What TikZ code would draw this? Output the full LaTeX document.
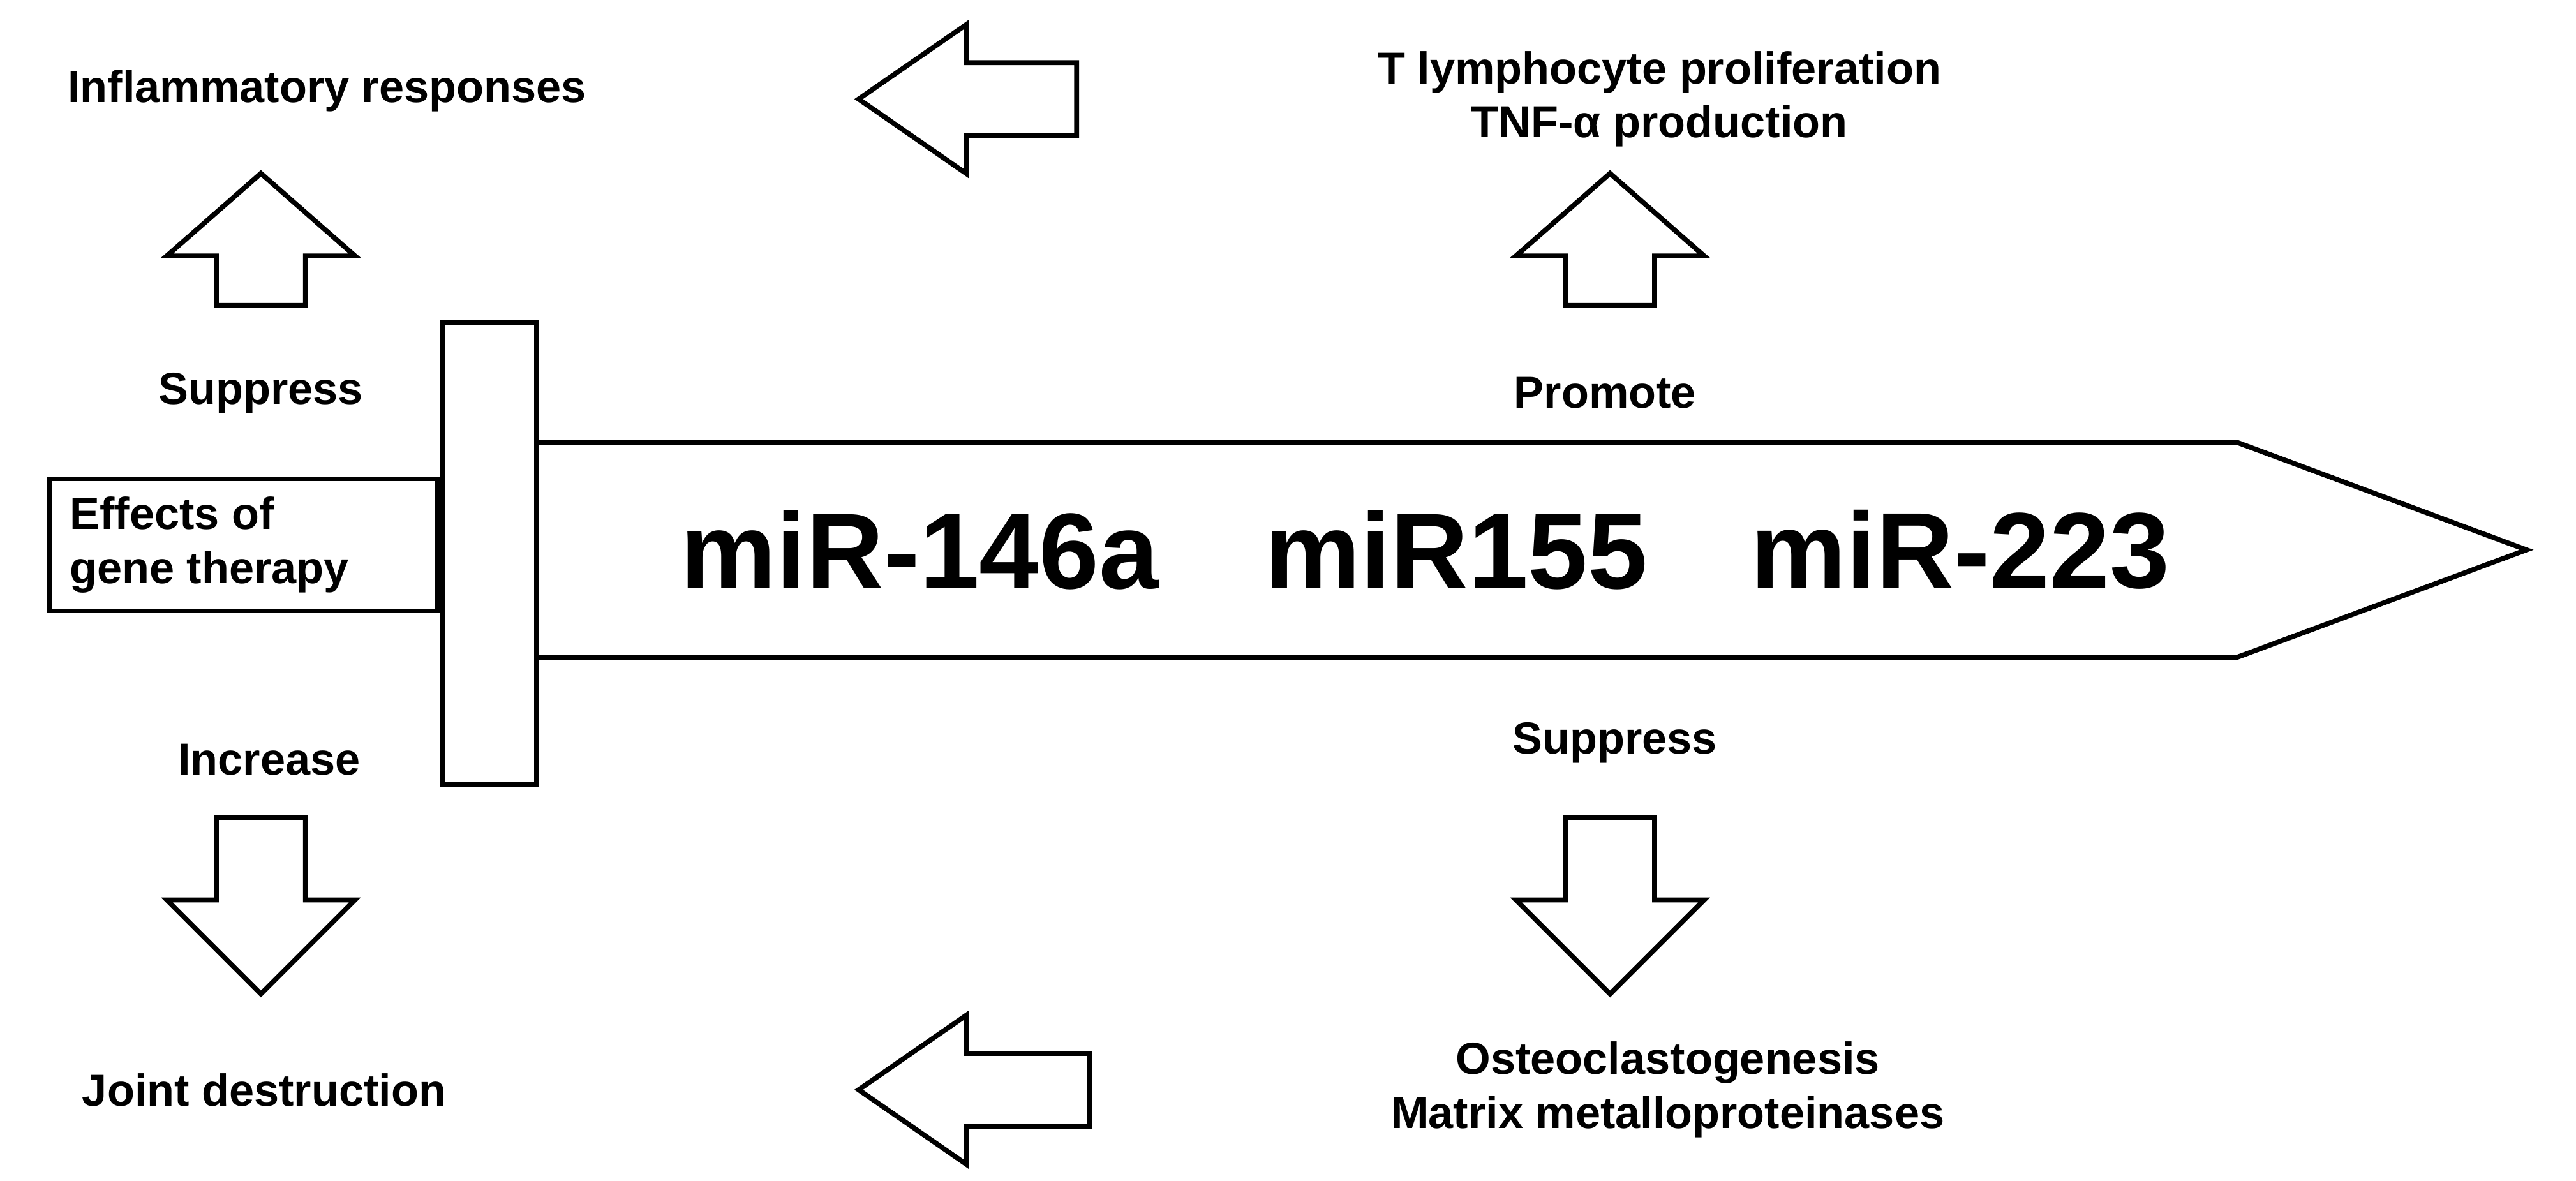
\documentclass[tikz,border=0pt]{standalone}
\usepackage{fontspec}
\setmainfont{Liberation Sans}
\begin{document}
\begin{tikzpicture}[x=0.02588cm,y=-0.02588cm,
  shp/.style={draw=black,line width=2.2pt,fill=white,line join=miter},
  lbl/.style={font=\bfseries\fontsize{20}{24}\selectfont,align=center,inner sep=0pt},
  mir/.style={font=\bfseries\fontsize{48}{54}\selectfont,inner sep=0pt}]
\useasboundingbox (0,0) rectangle (1560,715);
% blade
\draw[shp] (325,268) -- (1355,268) -- (1530,333) -- (1355,398) -- (325,398) -- cycle;
% guard
\draw[shp] (268,195) rectangle (325,475);
% handle
\draw[shp] (30,290) rectangle (265,370);
\node[lbl,align=left,anchor=west] (eff) at (42,330) {Effects of\\gene therapy};
\node[mir] (m1) at (557,333) {miR-146a};
\node[mir] (m2) at (882,333) {miR155};
\node[mir] (m3) at (1187,333) {miR-223};
% up and down arrows
\foreach \c in {158,975}{
  \draw[shp] (\c-27,185) -- (\c-27,155) -- (\c-57,155) -- (\c,105) -- (\c+57,155) -- (\c+27,155) -- (\c+27,185) -- cycle;
  \draw[shp] (\c-27,495) -- (\c-27,545) -- (\c-57,545) -- (\c,602) -- (\c+57,545) -- (\c+27,545) -- (\c+27,495) -- cycle;
}
% left arrows
\foreach \y/\r in {60/652,660/660}{
  \draw[shp] (\r,\y-22) -- (585,\y-22) -- (585,\y-45) -- (520,\y) -- (585,\y+45) -- (585,\y+22) -- (\r,\y+22) -- cycle;
}
\node[lbl] (inf) at (198,55) {Inflammatory responses};
\node[lbl] (tl) at (1005,60) {T lymphocyte proliferation\\TNF-α production};
\node[lbl] (s1) at (158,238) {Suppress};
\node[lbl] (pr) at (972,238) {Promote};
\node[lbl] (inc) at (163,460) {Increase};
\node[lbl] (s2) at (978,450) {Suppress};
\node[lbl] (jd) at (160,660) {Joint destruction};
\node[lbl] (os) at (1010,660) {Osteoclastogenesis\\Matrix metalloproteinases};
\end{tikzpicture}
\end{document}
